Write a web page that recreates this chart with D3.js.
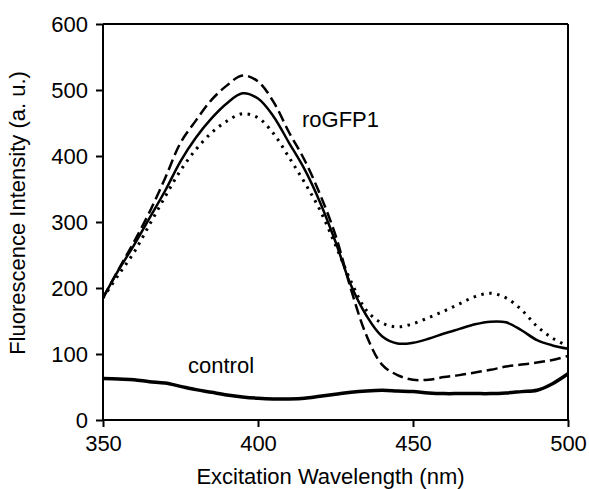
<!DOCTYPE html>
<html>
<head>
<meta charset="utf-8">
<script src="https://cdn.jsdelivr.net/npm/d3@7"></script>
<style>
  body { margin: 0; background: #fff; }
  svg text { font-family: "Liberation Sans", Arial, sans-serif; fill: #000; }
</style>
</head>
<body>
<div id="chart"></div>
<script>
//Datos
const wavelengths = [350, 355, 360, 365, 370, 375, 380, 385, 390, 395, 400, 405, 410, 415, 420, 425, 430, 435, 440, 445, 450, 455, 460, 465, 470, 475, 480, 485, 490, 495, 500];

const solidValues   = [185, 227, 265, 306, 347, 392, 428, 457, 480, 495, 487, 460, 420, 380, 330, 270, 204, 158, 127, 116, 117, 123, 131, 138, 145, 149, 148, 136, 121, 113, 108];
const dashValues    = [185, 228, 270, 315, 366, 420, 454, 485, 507, 522, 513, 482, 436, 394, 342, 280, 198, 128, 84, 68, 61, 61, 65, 68, 72, 76, 81, 84, 87, 91, 97];
const dotValues     = [185, 220, 254, 296, 338, 378, 410, 435, 453, 464, 458, 434, 398, 360, 318, 265, 210, 166, 147, 141, 146, 155, 165, 176, 187, 192, 185, 167, 142, 124, 112];
const controlValues = [63, 62, 61, 58, 56, 51, 46, 42, 38, 35, 33, 32, 32, 33, 36, 39, 42, 44, 45, 44, 43, 41, 40, 40, 40, 40, 41, 43, 45, 55, 70];

const xTicks = [350, 400, 450, 500];
const yTicks = [0, 100, 200, 300, 400, 500, 600];

//Medidas
const W = 589, H = 489;
const margin = {top: 24, right: 21, bottom: 69, left: 103};
const width = W - margin.left - margin.right,
      height = H - margin.top - margin.bottom;

const svg = d3.select("#chart").append("svg")
    .attr("width", W)
    .attr("height", H);

const chart = svg.append("g")
    .attr("transform", "translate(" + margin.left + "," + margin.top + ")");

//Escalas
let x = d3.scaleLinear().domain([350, 500]).range([0, width]);
let y = d3.scaleLinear().domain([0, 600]).range([height, 0]);

//Marco
chart.append("line").attr("x1", 0).attr("x2", width).attr("y1", 0).attr("y2", 0)
    .attr("stroke", "#000").attr("stroke-width", 2);
chart.append("line").attr("x1", width).attr("x2", width).attr("y1", 0).attr("y2", height)
    .attr("stroke", "#000").attr("stroke-width", 2);

//Eje X
chart.append("g")
    .attr("transform", "translate(0," + height + ")")
    .call(d3.axisBottom(x).tickValues(xTicks).tickSize(7).tickPadding(8).tickFormat(d3.format("d")))
    .call(g => g.selectAll("path, line").attr("stroke", "#000").attr("stroke-width", 2))
    .call(g => g.select(".domain").attr("d", "M0,0H" + width))
    .call(g => g.selectAll("text").attr("font-size", 22).attr("font-family", "Liberation Sans, Arial, sans-serif"));

//Eje Y
chart.append("g")
    .call(d3.axisLeft(y).tickValues(yTicks).tickSize(7).tickPadding(8))
    .call(g => g.selectAll("path, line").attr("stroke", "#000").attr("stroke-width", 2))
    .call(g => g.select(".domain").attr("d", "M0," + height + "V0"))
    .call(g => g.selectAll("text").attr("font-size", 22).attr("font-family", "Liberation Sans, Arial, sans-serif"));

//Títulos de ejes
svg.append("text")
    .attr("x", margin.left + width / 2 - 5)
    .attr("y", 484)
    .attr("text-anchor", "middle")
    .attr("font-size", 22)
    .text("Excitation Wavelength (nm)");

svg.append("text")
    .attr("transform", "translate(25,213) rotate(-90)")
    .attr("text-anchor", "middle")
    .attr("font-size", 22)
    .text("Fluorescence Intensity (a. u.)");

//Líneas
let line = d3.line()
    .x(function(d) { return x(d[0]); })
    .y(function(d) { return y(d[1]); })
    .curve(d3.curveCatmullRom);

function drawSeries(values, width, dash) {
    let path = chart.append("path")
        .datum(wavelengths.map(function(w, i) { return [w, values[i]]; }))
        .attr("fill", "none")
        .attr("stroke", "#000")
        .attr("stroke-width", width)
        .attr("d", line);
    if (dash) path.attr("stroke-dasharray", dash);
}

drawSeries(controlValues, 3.5, null);
drawSeries(dotValues, 3, "2.5,5.5");
drawSeries(dashValues, 2.5, "11,5");
drawSeries(solidValues, 2.5, null);

//Etiquetas
svg.append("text").attr("x", 302).attr("y", 127).attr("font-size", 22).text("roGFP1");
svg.append("text").attr("x", 188).attr("y", 373).attr("font-size", 22).text("control");
</script>
</body>
</html>
